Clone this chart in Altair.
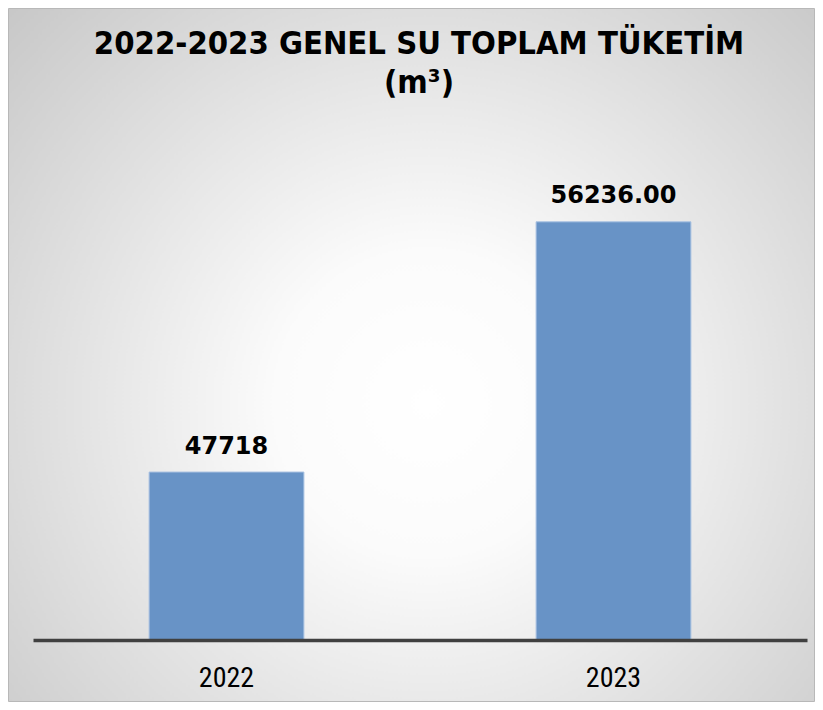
import altair as alt
import pandas as pd

# ---- data ----
years = ["2022", "2023"]
values = [47718, 56236]
value_labels = ["47718", "56236.00"]
title_lines = ["2022-2023 GENEL SU TOPLAM TÜKETİM", "(m³)"]
y_domain = [42000, 58000]

df = pd.DataFrame({"year": years, "value": values, "label": value_labels})

# ---- layout (plot area) ----
W, H = 774, 470
PAD_L, PAD_T, PAD_R, PAD_B = 25, 162, 8, 62

gradient = {
    "gradient": "radial",
    "x1": 0.52, "y1": 0.56, "r1": 0,
    "x2": 0.52, "y2": 0.56, "r2": 0.75,
    "stops": [
        {"offset": 0.0, "color": "#ffffff"},
        {"offset": 0.25, "color": "#fbfbfb"},
        {"offset": 1.0, "color": "#c4c4c4"},
    ],
}

bg = alt.Chart(alt.Data(values=[{}])).mark_rect(
    fill=gradient, stroke="#b8b8b8", strokeWidth=1
).encode(
    x=alt.value(-PAD_L + 0.5),
    x2=alt.value(W + PAD_R - 0.5),
    y=alt.value(-PAD_T + 0.5),
    y2=alt.value(H + PAD_B - 0.5),
)

title_style = dict(
    font="DejaVu Sans Condensed", fontWeight="bold", fontSize=32.5,
    color="#000000", align="center", baseline="alphabetic",
)
title1 = alt.Chart(alt.Data(values=[{}])).mark_text(**title_style).encode(
    x=alt.value(W / 2 - 1), y=alt.value(-116), text=alt.value(title_lines[0])
)
title2 = alt.Chart(alt.Data(values=[{}])).mark_text(**title_style).encode(
    x=alt.value(W / 2 - 1), y=alt.value(-77), text=alt.value(title_lines[1])
)

x_enc = alt.X(
    "year:N",
    sort=years,
    scale=alt.Scale(paddingInner=0.6, paddingOuter=0.3),
    axis=alt.Axis(
        title=None,
        labelAngle=0,
        labelFont="Roboto Condensed, DejaVu Sans Condensed",
        labelFontSize=28,
        labelColor="#000000",
        labelBaseline="alphabetic",
        labelPadding=46,
        ticks=False,
        tickSize=0,
        domain=True,
        domainColor="#404040",
        domainWidth=3.5,
        grid=False,
        zindex=2,
    ),
)
y_enc = alt.Y(
    "value:Q",
    scale=alt.Scale(domain=y_domain, zero=False, nice=False),
    axis=None,
)

bars = alt.Chart(df).mark_bar(
    color="#6893c6", stroke="#a9c2e2", strokeWidth=1
).encode(x=x_enc, y=y_enc, y2=alt.datum(y_domain[0]))

labels = alt.Chart(df).mark_text(
    font="DejaVu Sans", fontWeight="bold", fontSize=24, color="#000000",
    align="center", baseline="alphabetic", dy=-18.5,
).encode(x=alt.X("year:N", sort=years), y=alt.Y("value:Q"), text="label:N")

chart = alt.layer(bg, bars, labels, title1, title2).properties(
    width=W,
    height=H,
    padding={"left": PAD_L, "top": PAD_T, "right": PAD_R, "bottom": PAD_B},
    autosize=alt.AutoSizeParams(type="none"),
    background="#ffffff",
).configure_view(stroke=None)

chart.save("out.html", embed_options={"renderer": "svg", "actions": False})
